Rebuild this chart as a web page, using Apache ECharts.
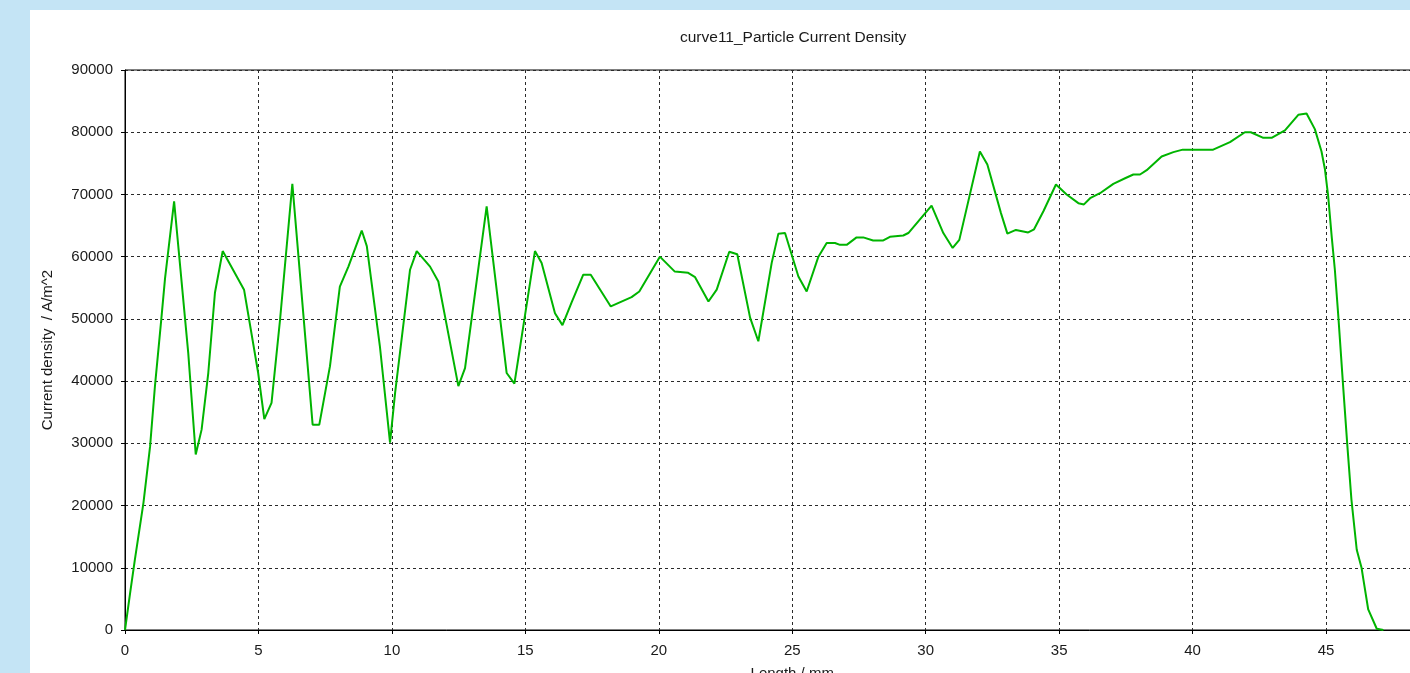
<!DOCTYPE html>
<html>
<head>
<meta charset="utf-8">
<title>curve11_Particle Current Density</title>
<script src="https://cdn.jsdelivr.net/npm/echarts@6/dist/echarts.min.js"></script>
<style>
  html, body { margin: 0; padding: 0; background: #c4e4f5; }
  #chart { width: 1410px; height: 673px; }
</style>
</head>
<body>
<div id="chart"></div>
<script>
// Particle current density along the length of curve11
const lengthMm = [
  0, 0.19, 0.37, 0.69, 0.94, 1.12, 1.37, 1.50, 1.84, 2.37, 2.65, 2.87, 3.12, 3.37, 3.66,
  4.46, 4.99, 5.22, 5.49, 5.81, 6.27, 7.03, 7.28, 7.68, 8.05, 8.37, 8.87, 9.06, 9.55, 9.93,
  10.12, 10.68, 10.93, 11.43, 11.74, 11.99, 12.49, 12.74, 13.55, 14.30, 14.59, 15.36, 15.61,
  16.11, 16.39, 16.73, 17.17, 17.45, 18.20, 18.98, 19.27, 20.04, 20.60, 21.10, 21.36, 21.86,
  22.17, 22.64, 22.94, 23.42, 23.73, 24.23, 24.48, 24.73, 25.23, 25.54, 25.98, 26.29, 26.60,
  26.79, 27.04, 27.41, 27.66, 28.03, 28.41, 28.66, 29.16, 29.35, 30.22, 30.66, 31.01, 31.26,
  32.03, 32.31, 32.82, 33.06, 33.38, 33.84, 34.06, 34.41, 34.88, 35.28, 35.72, 35.93, 36.16,
  36.53, 37.03, 37.47, 37.78, 38.03, 38.28, 38.84, 39.28, 39.63, 40.77, 41.40, 41.96, 42.18,
  42.65, 42.96, 43.46, 43.96, 44.27, 44.58, 44.83, 44.96, 45.08, 45.21, 45.33, 45.46, 45.65,
  45.80, 45.95, 46.15, 46.33, 46.40, 46.58, 46.90, 47.15
];
const currentDensity = [
  0, 5900, 11300, 20400, 29500, 39100, 50400, 56500, 68900, 44500, 28200, 32200, 41300, 54200, 60900,
  54700, 41300, 33900, 36500, 49900, 71700, 33000, 33000, 42400, 55200, 58400, 64200, 61700, 45600, 30100,
  38100, 57900, 60900, 58400, 56000, 50400, 39200, 42100, 68100, 41300, 39600, 60900, 59000,
  50900, 49000, 52600, 57100, 57100, 52000, 53500, 54400, 60000, 57600, 57400, 56700, 52800,
  54700, 60800, 60400, 50200, 46400, 59000, 63700, 63800, 56800, 54400, 60000, 62200, 62200,
  61900, 61900, 63100, 63100, 62600, 62600, 63200, 63400, 63800, 68200, 63800, 61400, 62700,
  76900, 74800, 67000, 63700, 64300, 63900, 64400, 67300, 71600, 70000, 68600, 68400, 69400,
  70200, 71700, 72600, 73200, 73200, 73900, 76100, 76800, 77200, 77200, 78400, 80000, 80000,
  79100, 79100, 80300, 82800, 83000, 80500, 76900, 74000, 69700, 63300, 57900, 50400, 38600,
  29500, 21000, 12900, 10000, 8100, 3300, 200, 0
];

const titleText = 'curve11_Particle Current Density';
const xName = 'Length / mm';
const yName = 'Current density  / A/m^2';

const points = lengthMm.map((x, i) => [x, currentDensity[i]]);

const FONT = '"Liberation Sans", Arial, sans-serif';
const TEXT_COLOR = '#1a1a1a';
const gridDash = { color: '#2a2a2a', type: [3, 3], width: 1 };
const plainNumber = v => String(v);

const chart = echarts.init(document.getElementById('chart'), null, { renderer: 'canvas' });
chart.setOption({
  animation: false,
  backgroundColor: '#c4e4f5',
  graphic: [{
    type: 'rect',
    z: -100,
    silent: true,
    shape: { x: 30, y: 10, width: 1380, height: 663 },
    style: { fill: '#ffffff' }
  }],
  title: {
    text: titleText,
    left: 675,
    top: 25,
    textStyle: { fontFamily: FONT, fontSize: 15.5, fontWeight: 'normal', color: TEXT_COLOR }
  },
  grid: {
    left: 125,
    top: 70,
    width: 1334.5,
    height: 560,
    containLabel: false,
    outerBoundsMode: 'none',
    show: true,
    borderColor: '#000',
    borderWidth: 1,
    backgroundColor: 'transparent'
  },
  xAxis: {
    type: 'value',
    min: 0,
    max: 50,
    interval: 5,
    name: xName,
    nameLocation: 'middle',
    nameGap: 36,
    nameTextStyle: { fontFamily: FONT, fontSize: 15, color: TEXT_COLOR },
    axisLine: { show: true, lineStyle: { color: '#000', width: 1 } },
    axisTick: { show: true, inside: false, length: 4, lineStyle: { color: '#000' } },
    axisLabel: { fontFamily: FONT, fontSize: 15, color: TEXT_COLOR, margin: 13, formatter: plainNumber },
    splitLine: { show: true, lineStyle: gridDash }
  },
  yAxis: {
    type: 'value',
    min: 0,
    max: 90000,
    interval: 10000,
    name: yName,
    nameLocation: 'middle',
    nameGap: 70,
    nameTextStyle: { fontFamily: FONT, fontSize: 15, color: TEXT_COLOR },
    axisLine: { show: true, lineStyle: { color: '#000', width: 1 } },
    axisTick: { show: true, inside: false, length: 4, lineStyle: { color: '#000' } },
    axisLabel: { fontFamily: FONT, fontSize: 15, color: TEXT_COLOR, margin: 12, formatter: plainNumber },
    splitLine: { show: true, lineStyle: gridDash }
  },
  series: [{
    type: 'line',
    data: points,
    showSymbol: false,
    symbol: 'none',
    clip: true,
    lineStyle: { color: '#00b400', width: 2 },
    z: 3
  }]
});
</script>
</body>
</html>
